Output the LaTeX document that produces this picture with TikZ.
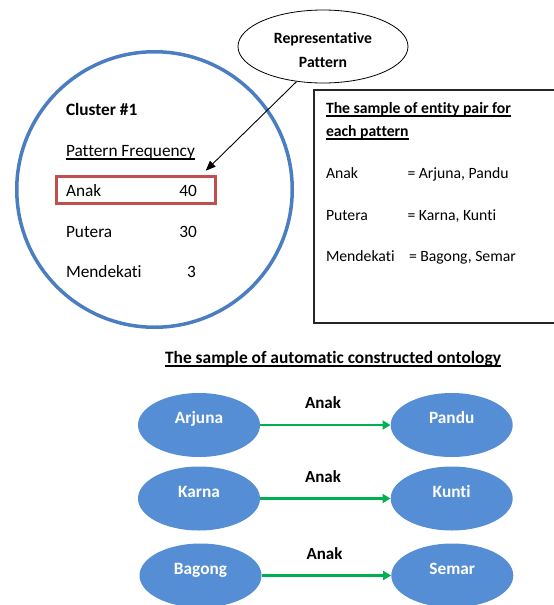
\documentclass[tikz,border=0pt]{standalone}
\usepackage{fontspec}
\setmainfont{Carlito}[Ligatures=NoCommon]
\usetikzlibrary{shapes.geometric,arrows.meta}
\definecolor{circblue}{RGB}{74,126,193}
\definecolor{ellblue}{RGB}{85,142,213}
\definecolor{hlred}{RGB}{192,80,77}
\definecolor{arrgreen}{RGB}{0,176,80}
\newcommand\myul[1]{\setbox0\hbox{#1}\rlap{\vrule height -1.6pt depth 2.8pt width \wd0}\box0}
\begin{document}
\begin{tikzpicture}[x=1pt,y=-1pt,
  txt/.style={inner sep=0pt, outer sep=0pt, text height=0.65em, text depth=0pt, yshift=-2.5pt, font=\fontsize{17.3}{20}\selectfont},
  btxt/.style={txt, font=\fontsize{17.3}{20}\selectfont\bfseries},
  stxt/.style={txt, font=\fontsize{15.7}{19}\selectfont},
  sbtxt/.style={txt, font=\fontsize{15.7}{19}\selectfont\bfseries},
  ttxt/.style={txt, font=\fontsize{17.4}{20}\selectfont\bfseries},
  entity/.style={ellipse, fill=ellblue, draw=none, minimum width=122pt, minimum height=64pt, inner sep=0pt},
  enttext/.style={txt, text=white, font=\fontsize{17.3}{20}\selectfont\bfseries, yshift=7pt},
  rel/.style={draw=arrgreen, line width=2.5pt, -{Triangle[length=8pt,width=9pt]}},
  rellab/.style={txt, font=\fontsize{17}{20}\selectfont\bfseries},
]
\useasboundingbox (0,0) rectangle (554,605);

% cluster circle
\node[circle, draw=circblue, line width=3.5pt, minimum size=275.5pt, inner sep=0pt] (cluster) at (154.5,189.5) {};

% representative pattern ellipse
\node[ellipse, draw=black, line width=0.8pt, minimum width=170pt, minimum height=73pt, inner sep=0pt] (rep) at (323,46.5) {};
\node[sbtxt] (rep1) at (323,38) {Representative};
\node[sbtxt] (rep2) at (323,62) {Pattern};

% highlight box
\node[draw=hlred, line width=3pt, minimum width=158.7pt, minimum height=27pt, inner sep=0pt] (hl) at (135.8,190) {};

% cluster texts
\node[btxt, anchor=west] (clt) at (66,110) {Cluster \#1};
\node[txt, anchor=west] (pf) at (66,151) {\myul{Pattern Frequency}};
\node[txt, anchor=west] (p1) at (66,191) {Anak};
\node[txt, anchor=east] (f1) at (197,191) {40};
\node[txt, anchor=west] (p2) at (66,232) {Putera};
\node[txt, anchor=east] (f2) at (197,232) {30};
\node[txt, anchor=west] (p3) at (66,272) {Mendekati};
\node[txt, anchor=east] (f3) at (196,272) {3};

% arrow from representative pattern
\coordinate (tip) at (205.7,170.7);
\draw[line width=0.9pt, -{Triangle[length=10pt,width=8pt]}] (rep.233) -- (tip);

% sample box
\draw[line width=1.4pt, draw=black!85] (314,90) rectangle (560,323);
\node[sbtxt, anchor=west] (bt1) at (326,108) {\myul{The sample of entity pair for}};
\node[sbtxt, anchor=west] (bt2) at (326,131) {\myul{each pattern}};
\node[stxt, anchor=west] (b1) at (326,173) {Anak};
\node[stxt, anchor=west] (e1) at (407.5,173) {= Arjuna, Pandu};
\node[stxt, anchor=west] (b2) at (326,215) {Putera};
\node[stxt, anchor=west] (e2) at (407.5,215) {= Karna, Kunti};
\node[stxt, anchor=west] (b3) at (326,256) {Mendekati};
\node[stxt, anchor=west] (e3) at (409,256) {= Bagong, Semar};

% ontology title
\node[ttxt] (title) at (333,358) {\myul{The sample of automatic constructed ontology}};

% entities
\node[entity, label={[enttext]center:Arjuna}] (arj) at (199,425) {};
\node[entity, label={[enttext]center:Pandu}] (pan) at (451.7,425) {};
\node[entity, label={[enttext]center:Karna}] (kar) at (199,498.5) {};
\node[entity, label={[enttext]center:Kunti}] (kun) at (451.7,498.5) {};
\node[entity, label={[enttext]center:Bagong}] (bag) at (200.5,575.5) {};
\node[entity, label={[enttext]center:Semar}] (sem) at (452.3,575.5) {};

% relations
\draw[rel] (arj) -- (pan);
\draw[rel] (kar) -- (kun);
\draw[rel] (bag) -- (sem);
\node[rellab] (r1) at (323,403) {Anak};
\node[rellab] (r2) at (323,477) {Anak};
\node[rellab] (r3) at (324.5,554) {Anak};
\end{tikzpicture}
\end{document}
